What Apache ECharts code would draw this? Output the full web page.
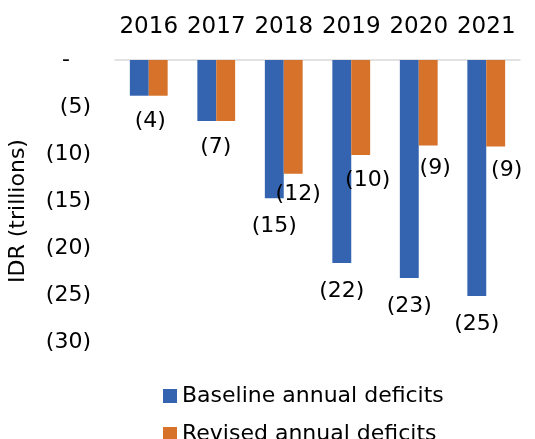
<!DOCTYPE html>
<html><head><meta charset="utf-8">
<script src="https://cdn.jsdelivr.net/npm/echarts@6/dist/echarts.min.js"></script>
<style>html,body{margin:0;padding:0;background:#fff}#c{width:535px;height:439px}</style>
</head><body><div id="c"></div>
<script>
var categories = ['2016','2017','2018','2019','2020','2021'];
var baseline = [-3.8, -6.5, -14.7, -21.6, -23.2, -25.1];
var revised = [-3.8, -6.5, -12.1, -10.1, -9.1, -9.2];
var seriesNames = ['Baseline annual deficits', 'Revised annual deficits'];

var FONT = 'DejaVu Sans';
var fmt = function (p) { return '(' + Math.round(-p.value) + ')'; };
// label offsets (style only)
var baseOff = [[11,15],[9,15],[0,17],[0,17],[0,17],[0,17]];
var revOff = [null,null,[5,9.5],[7,14.5],[7,11.5],[11,12.5]];

function legendAt(name, top) {
  return {
    left: 158, top: top, itemWidth: 14, itemHeight: 14, itemGap: 6,
    icon: 'rect', data: [name],
    textStyle: {color: '#000', fontFamily: FONT, fontSize: 22}
  };
}

var chart = echarts.init(document.getElementById('c'));
chart.setOption({
  animation: false,
  grid: {left: 115, right: 15, top: 60, bottom: 97, outerBoundsMode: 'none', containLabel: false},
  xAxis: {
    type: 'category', position: 'top', data: categories,
    axisLine: {lineStyle: {color: '#d9d9d9', width: 1.5}},
    axisTick: {show: false},
    axisLabel: {color: '#000', fontFamily: FONT, fontSize: 23, margin: 21, interval: 0}
  },
  yAxis: {
    type: 'value', min: -30, max: 0, interval: 5,
    name: 'IDR (trillions)', nameLocation: 'middle', nameRotate: 90, nameGap: 86,
    nameTextStyle: {color: '#000', fontFamily: FONT, fontSize: 22, padding: [0, 20, 0, 0]},
    axisLine: {show: false}, axisTick: {show: false}, splitLine: {show: false},
    axisLabel: {color: '#000', fontFamily: FONT, fontSize: 22, margin: 24,
      formatter: function (v) { return v === 0 ? '-   ' : '(' + (-v) + ')'; }}
  },
  legend: [legendAt(seriesNames[0], 380), legendAt(seriesNames[1], 418)],
  series: [
    {
      name: seriesNames[0], type: 'bar', barGap: '0%', barCategoryGap: '44%',
      itemStyle: {color: '#3464B0'},
      data: baseline.map(function (v, i) {
        return {value: v, label: {show: true, position: 'bottom', distance: 0, offset: baseOff[i],
          formatter: fmt, color: '#000', fontFamily: FONT, fontSize: 22}};
      })
    },
    {
      name: seriesNames[1], type: 'bar',
      itemStyle: {color: '#D6722A'},
      data: revised.map(function (v, i) {
        return {value: v, label: {show: revOff[i] !== null, position: 'bottom', distance: 0,
          offset: revOff[i] || [0,0], formatter: fmt, color: '#000', fontFamily: FONT, fontSize: 22}};
      })
    }
  ]
});
</script></body></html>
